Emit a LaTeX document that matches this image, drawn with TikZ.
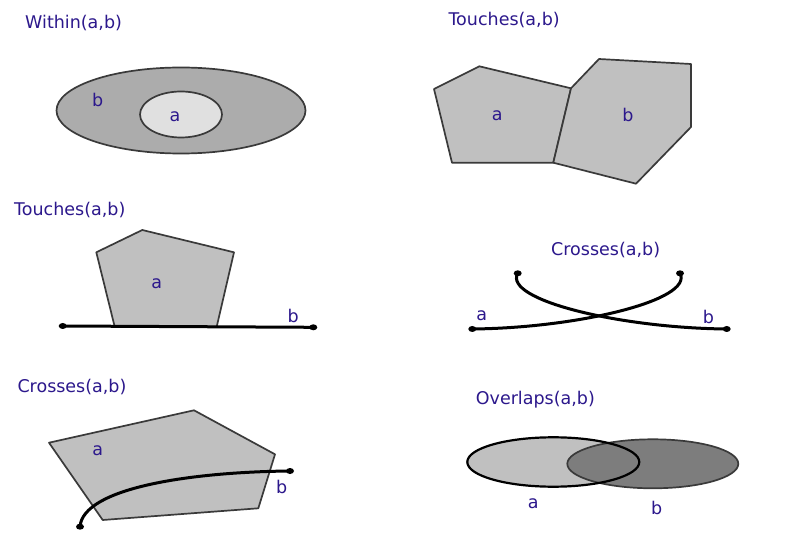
\documentclass[tikz,border=0pt]{standalone}
\usepackage{fontspec}
\setmainfont{DejaVu Sans}
\definecolor{labcol}{RGB}{44,24,140}
\definecolor{edgecol}{RGB}{58,58,58}
\definecolor{polyfill}{RGB}{192,192,192}
\definecolor{bigfill}{RGB}{172,172,172}
\definecolor{smallfill}{RGB}{224,224,224}
\definecolor{darkfill}{RGB}{125,125,125}
\begin{document}
\begin{tikzpicture}[x=1pt,y=-1pt,
  lab/.style={text=labcol,inner sep=0pt,font=\fontsize{17.5}{20}\selectfont},
  title/.style={lab,anchor=base west},
  shapeline/.style={draw=edgecol,line width=1.7pt},
  geomline/.style={draw=black,line width=3pt,line cap=round},
  enddot/.style={fill=black}]
\useasboundingbox (0,0) rectangle (790,553);
\fill[white] (0,0) rectangle (790,553);

% ---- Within(a,b)
\node[title] (t1) at (25,29) {Within(a,b)};
\draw[shapeline,fill=bigfill] (181,110.5) ellipse [x radius=124.5,y radius=43];
\draw[shapeline,fill=smallfill] (181,114.5) ellipse [x radius=41,y radius=23];
\node[lab] (w-b) at (97.7,100) {b};
\node[lab] (w-a) at (175,116.7) {a};

% ---- Touches(a,b) top right
\node[title] (t2) at (448.3,26) {Touches(a,b)};
\draw[shapeline,fill=polyfill,line join=round] (434,89) -- (479.3,66.3) -- (571,88.3) -- (553.3,162.7) -- (452,162.7) -- cycle;
\draw[shapeline,fill=polyfill,line join=round] (571,88.3) -- (599,59) -- (691,64) -- (691,127) -- (636,183.7) -- (553.3,162.7) -- cycle;
\node[lab] (tp-a) at (497.3,116) {a};
\node[lab] (tp-b) at (628,115) {b};

% ---- Touches(a,b) middle left
\node[title] (t3) at (14,216) {Touches(a,b)};
\draw[shapeline,fill=polyfill,line join=round] (96.3,252.3) -- (142.3,230) -- (234,252.3) -- (216.7,326.7) -- (114.7,326.7) -- cycle;
\draw[geomline] (62.7,326) -- (313.3,327.3);
\fill[enddot] (62.7,326) ellipse [x radius=4,y radius=3];
\fill[enddot] (313.3,327.3) ellipse [x radius=4,y radius=3];
\node[lab] (tl-a) at (156.7,284) {a};
\node[lab] (tl-b) at (293.3,315.7) {b};

% ---- Crosses(a,b) middle right
\node[title] (t4) at (551,256) {Crosses(a,b)};
\draw[geomline] (517.7,273.3) .. controls (503,300) and (620,328) .. (726.7,329);
\draw[geomline] (680,273.3) .. controls (694,300) and (578,328) .. (472.3,329);
\foreach \p in {(517.7,273.3),(680,273.3),(472.3,329),(726.7,329)}
  \fill[enddot] \p ellipse [x radius=4,y radius=3];
\node[lab] (cr-a) at (481.7,316) {a};
\node[lab] (cr-b) at (708.3,316.7) {b};

% ---- Crosses(a,b) bottom left
\node[title] (t5) at (17.3,392.7) {Crosses(a,b)};
\draw[shapeline,fill=polyfill,line join=round] (49,442.7) -- (194,410.3) -- (275,454.3) -- (258.3,508.3) -- (102.7,520) -- cycle;
\draw[geomline] (80,526.7) .. controls (83,488) and (190,472) .. (290,471);
\fill[enddot] (80,526.7) ellipse [x radius=4,y radius=3];
\fill[enddot] (290,471) ellipse [x radius=4,y radius=3];
\node[lab] (cb-a) at (97.7,450.7) {a};
\node[lab] (cb-b) at (281.7,487.3) {b};

% ---- Overlaps(a,b)
\node[title] (t6) at (475.7,404) {Overlaps(a,b)};
\fill[polyfill] (553.3,462) ellipse [x radius=86,y radius=24.7];
\draw[draw=edgecol,line width=1.7pt,fill=darkfill] (652.8,463.8) ellipse [x radius=85.5,y radius=24.5];
\draw[draw=black,line width=2.2pt] (553.3,462) ellipse [x radius=86,y radius=24.7];
\node[lab] (ov-a) at (533.3,504) {a};
\node[lab] (ov-b) at (656.7,508.3) {b};
\end{tikzpicture}
\end{document}
